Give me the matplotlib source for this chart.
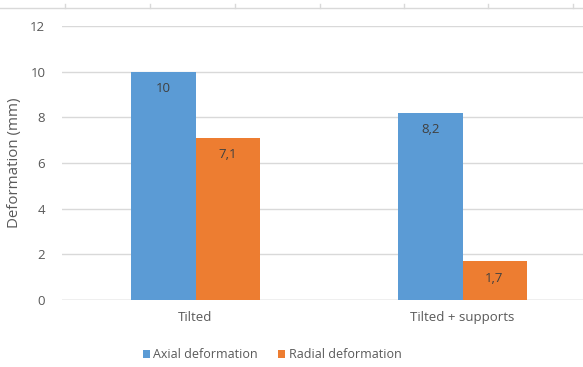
import numpy as np
import matplotlib.pyplot as plt
from matplotlib.lines import Line2D

plt.rcParams['font.family'] = ['Open Sans', 'DejaVu Sans']

categories = ["Tilted", "Tilted + supports"]
series_names = ["Axial deformation", "Radial deformation"]
axial = [10, 8.2]
radial = [7.1, 1.7]
colors = ["#5B9BD5", "#ED7D31"]
yticks = [0, 2, 4, 6, 8, 10, 12]

W, H = 583, 367
fig = plt.figure(figsize=(W / 100, H / 100), dpi=100)

# plot area runs a little past the right edge of the figure
ax = fig.add_axes([62 / W, (H - 300) / H, (596 - 62) / W, (300 - 26) / H])

x = np.arange(len(categories))
width = 0.24
text_col = "#595959"
fs = 9.5

for i, (vals, name) in enumerate(zip([axial, radial], series_names)):
    pos = x + (i - 0.5) * width
    bars = ax.bar(pos, vals, width, color=colors[i], label=name, zorder=3)
    for b, v in zip(bars, vals):
        lbl = f"{v:g}".replace(".", ",")
        ax.annotate(lbl, (b.get_x() + b.get_width() / 2, v), xytext=(0, -17),
                    textcoords="offset pixels",
                    ha="center", va="center", fontsize=fs, color="#404040", zorder=4)

ax.set_xlim(-0.5, 1.5)
ax.set_ylim(0, 12)
ax.set_yticks(yticks)
ax.set_yticklabels([str(t) for t in yticks])
ax.set_xticks(x)
ax.set_xticklabels(categories)
ax.grid(axis="y", color="#d9d9d9", linewidth=1, zorder=0)
ax.tick_params(length=0, labelsize=fs, colors=text_col)
ax.tick_params(axis="y", pad=12)
ax.tick_params(axis="x", pad=8)
for s in ax.spines.values():
    s.set_visible(False)
ax.axhline(0, color="#d0d0d0", linewidth=1, zorder=2)
ax.set_ylabel("Deformation (mm)", fontsize=10.8, color=text_col)
ax.yaxis.set_label_coords(-0.074, 0.5)

fig.legend(loc="center", bbox_to_anchor=(272 / W, (H - 355) / H), ncol=2, frameon=False,
           fontsize=9, handlelength=0.6, handleheight=0.6, handletextpad=0.25,
           columnspacing=1.6, labelcolor=text_col)

# thin ruler strip along the top edge
fig.add_artist(Line2D([0, 1], [(H - 7.5) / H] * 2, color="#d9d9d9", lw=1))
for tx in [65, 150, 235, 320, 404, 488, 573]:
    fig.add_artist(Line2D([tx / W] * 2, [(H - 7.5) / H, (H - 4) / H], color="#d9d9d9", lw=1))

fig.savefig("out.png", dpi=100)
